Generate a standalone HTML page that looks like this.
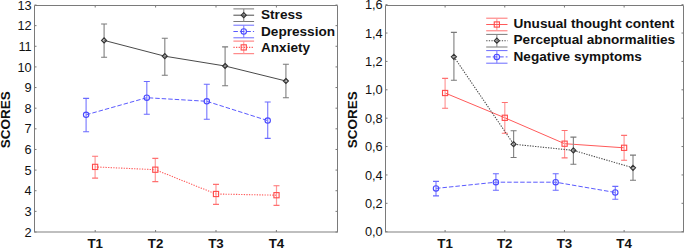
<!DOCTYPE html>
<html><head><meta charset="utf-8"><style>
html,body{margin:0;padding:0;background:#fff;}
svg{display:block;font-family:"Liberation Sans", sans-serif;}
</style></head><body>
<svg width="685" height="249" viewBox="0 0 685 249">
<rect width="685" height="249" fill="#fff"/>
<path d="M34.5 232V5.5H337.5V232" fill="none" stroke="#7a7a7a" stroke-width="1"/>
<path d="M34 232H338" fill="none" stroke="#808080" stroke-width="1.2"/>
<path d="M34.5 232h2M337.5 232h-2" stroke="#7a7a7a" stroke-width="1"/>
<path d="M34.5 211.36h2M337.5 211.36h-2" stroke="#7a7a7a" stroke-width="1"/>
<path d="M34.5 190.73h2M337.5 190.73h-2" stroke="#7a7a7a" stroke-width="1"/>
<path d="M34.5 170.09h2M337.5 170.09h-2" stroke="#7a7a7a" stroke-width="1"/>
<path d="M34.5 149.46h2M337.5 149.46h-2" stroke="#7a7a7a" stroke-width="1"/>
<path d="M34.5 128.82h2M337.5 128.82h-2" stroke="#7a7a7a" stroke-width="1"/>
<path d="M34.5 108.18h2M337.5 108.18h-2" stroke="#7a7a7a" stroke-width="1"/>
<path d="M34.5 87.55h2M337.5 87.55h-2" stroke="#7a7a7a" stroke-width="1"/>
<path d="M34.5 66.91h2M337.5 66.91h-2" stroke="#7a7a7a" stroke-width="1"/>
<path d="M34.5 46.28h2M337.5 46.28h-2" stroke="#7a7a7a" stroke-width="1"/>
<path d="M34.5 25.64h2M337.5 25.64h-2" stroke="#7a7a7a" stroke-width="1"/>
<path d="M34.5 5h2M337.5 5h-2" stroke="#7a7a7a" stroke-width="1"/>
<path d="M95.2 232v-2M95.2 5.5v2" stroke="#7a7a7a" stroke-width="1"/>
<path d="M155.6 232v-2M155.6 5.5v2" stroke="#7a7a7a" stroke-width="1"/>
<path d="M216 232v-2M216 5.5v2" stroke="#7a7a7a" stroke-width="1"/>
<path d="M276.4 232v-2M276.4 5.5v2" stroke="#7a7a7a" stroke-width="1"/>
<text x="31.7" y="236.6" font-size="12.8" text-anchor="end" fill="#111">2</text>
<text x="31.7" y="215.96" font-size="12.8" text-anchor="end" fill="#111">3</text>
<text x="31.7" y="195.33" font-size="12.8" text-anchor="end" fill="#111">4</text>
<text x="31.7" y="174.69" font-size="12.8" text-anchor="end" fill="#111">5</text>
<text x="31.7" y="154.06" font-size="12.8" text-anchor="end" fill="#111">6</text>
<text x="31.7" y="133.42" font-size="12.8" text-anchor="end" fill="#111">7</text>
<text x="31.7" y="112.78" font-size="12.8" text-anchor="end" fill="#111">8</text>
<text x="31.7" y="92.15" font-size="12.8" text-anchor="end" fill="#111">9</text>
<text x="31.7" y="71.51" font-size="12.8" text-anchor="end" fill="#111">10</text>
<text x="31.7" y="50.88" font-size="12.8" text-anchor="end" fill="#111">11</text>
<text x="31.7" y="30.24" font-size="12.8" text-anchor="end" fill="#111">12</text>
<text x="31.7" y="9.6" font-size="12.8" text-anchor="end" fill="#111">13</text>
<text x="95.2" y="247.5" font-size="13.3" font-weight="bold" text-anchor="middle" fill="#111">T1</text>
<text x="155.6" y="247.5" font-size="13.3" font-weight="bold" text-anchor="middle" fill="#111">T2</text>
<text x="216" y="247.5" font-size="13.3" font-weight="bold" text-anchor="middle" fill="#111">T3</text>
<text x="276.4" y="247.5" font-size="13.3" font-weight="bold" text-anchor="middle" fill="#111">T4</text>
<text transform="translate(9.8 119.8) rotate(-90)" x="0" y="0" font-size="13.5" font-weight="bold" text-anchor="middle" fill="#111">SCORES</text>
<path d="M104.1 40.4 L164.8 56.2 L225.1 66 L285.9 81" fill="none" stroke="#4a4a4a" stroke-width="1"/>
<path d="M104.1 24V57.2" stroke="#8a8a8a" stroke-width="1.2" fill="none"/>
<path d="M101.1 24H107.1M101.1 57.2H107.1" stroke="#7a7a7a" stroke-width="1.1" fill="none"/>
<path d="M164.8 38.2V75.3" stroke="#8a8a8a" stroke-width="1.2" fill="none"/>
<path d="M161.8 38.2H167.8M161.8 75.3H167.8" stroke="#7a7a7a" stroke-width="1.1" fill="none"/>
<path d="M225.1 46.9V85.7" stroke="#8a8a8a" stroke-width="1.2" fill="none"/>
<path d="M222.1 46.9H228.1M222.1 85.7H228.1" stroke="#7a7a7a" stroke-width="1.1" fill="none"/>
<path d="M285.9 64.3V97.7" stroke="#8a8a8a" stroke-width="1.2" fill="none"/>
<path d="M282.9 64.3H288.9M282.9 97.7H288.9" stroke="#7a7a7a" stroke-width="1.1" fill="none"/>
<path d="M104.1 37.9L106.6 40.4L104.1 42.9L101.6 40.4Z" fill="none" stroke="#333" stroke-width="1.2"/>
<path d="M164.8 53.7L167.3 56.2L164.8 58.7L162.3 56.2Z" fill="none" stroke="#333" stroke-width="1.2"/>
<path d="M225.1 63.5L227.6 66L225.1 68.5L222.6 66Z" fill="none" stroke="#333" stroke-width="1.2"/>
<path d="M285.9 78.5L288.4 81L285.9 83.5L283.4 81Z" fill="none" stroke="#333" stroke-width="1.2"/>
<path d="M86.1 114.8 L146.8 97.7 L206.8 101.3 L267.7 120.6" fill="none" stroke="#5a5aff" stroke-width="1" stroke-dasharray="4.5 2"/>
<path d="M86.1 98.4V131.7" stroke="#8080ff" stroke-width="1.2" fill="none"/>
<path d="M83.1 98.4H89.1M83.1 131.7H89.1" stroke="#6a6aff" stroke-width="1.1" fill="none"/>
<path d="M146.8 81.5V114.3" stroke="#8080ff" stroke-width="1.2" fill="none"/>
<path d="M143.8 81.5H149.8M143.8 114.3H149.8" stroke="#6a6aff" stroke-width="1.1" fill="none"/>
<path d="M206.8 84.3V119.3" stroke="#8080ff" stroke-width="1.2" fill="none"/>
<path d="M203.8 84.3H209.8M203.8 119.3H209.8" stroke="#6a6aff" stroke-width="1.1" fill="none"/>
<path d="M267.7 102V138.4" stroke="#8080ff" stroke-width="1.2" fill="none"/>
<path d="M264.7 102H270.7M264.7 138.4H270.7" stroke="#6a6aff" stroke-width="1.1" fill="none"/>
<circle cx="86.1" cy="114.8" r="2.7" fill="none" stroke="#4a4aff" stroke-width="1.1"/>
<circle cx="146.8" cy="97.7" r="2.7" fill="none" stroke="#4a4aff" stroke-width="1.1"/>
<circle cx="206.8" cy="101.3" r="2.7" fill="none" stroke="#4a4aff" stroke-width="1.1"/>
<circle cx="267.7" cy="120.6" r="2.7" fill="none" stroke="#4a4aff" stroke-width="1.1"/>
<path d="M95.1 166.9 L155.3 169.7 L216 194 L276.5 195.2" fill="none" stroke="#ff5a5a" stroke-width="1.1" stroke-dasharray="1.3 1.3"/>
<path d="M95.1 156.2V178.1" stroke="#ff9a9a" stroke-width="1.2" fill="none"/>
<path d="M92.1 156.2H98.1M92.1 178.1H98.1" stroke="#ff7070" stroke-width="1.1" fill="none"/>
<path d="M155.3 158.4V181.6" stroke="#ff9a9a" stroke-width="1.2" fill="none"/>
<path d="M152.3 158.4H158.3M152.3 181.6H158.3" stroke="#ff7070" stroke-width="1.1" fill="none"/>
<path d="M216 184.4V204.4" stroke="#ff9a9a" stroke-width="1.2" fill="none"/>
<path d="M213 184.4H219M213 204.4H219" stroke="#ff7070" stroke-width="1.1" fill="none"/>
<path d="M276.5 185.7V205.4" stroke="#ff9a9a" stroke-width="1.2" fill="none"/>
<path d="M273.5 185.7H279.5M273.5 205.4H279.5" stroke="#ff7070" stroke-width="1.1" fill="none"/>
<rect x="92.5" y="164.3" width="5.2" height="5.2" fill="none" stroke="#ff4a4a" stroke-width="1.1"/>
<rect x="152.7" y="167.1" width="5.2" height="5.2" fill="none" stroke="#ff4a4a" stroke-width="1.1"/>
<rect x="213.4" y="191.4" width="5.2" height="5.2" fill="none" stroke="#ff4a4a" stroke-width="1.1"/>
<rect x="273.9" y="192.6" width="5.2" height="5.2" fill="none" stroke="#ff4a4a" stroke-width="1.1"/>
<path d="M233.4 8.9H254.1M233.4 21.5H254.1" stroke="#7a7a7a" stroke-width="1" fill="none"/>
<path d="M243.75 8.9V21.5" stroke="#8a8a8a" stroke-width="1.1" fill="none"/>
<path d="M233.4 15.2H254.1" stroke="#4a4a4a" stroke-width="1"/>
<path d="M243.75 12.7L246.25 15.2L243.75 17.7L241.25 15.2Z" fill="none" stroke="#333" stroke-width="1.2"/>
<text x="261" y="19.3" font-size="13.6" font-weight="bold" fill="#111">Stress</text>
<path d="M233.4 25.2H254.1M233.4 37.8H254.1" stroke="#6a6aff" stroke-width="1" fill="none"/>
<path d="M243.75 25.2V37.8" stroke="#8080ff" stroke-width="1.1" fill="none"/>
<path d="M233.4 31.5H254.1" stroke="#5a5aff" stroke-width="1" stroke-dasharray="4.5 2"/>
<circle cx="243.75" cy="31.5" r="2.7" fill="none" stroke="#4a4aff" stroke-width="1.1"/>
<text x="261" y="35.6" font-size="13.6" font-weight="bold" fill="#111">Depression</text>
<path d="M233.4 41.1H254.1M233.4 53.7H254.1" stroke="#ff7070" stroke-width="1" fill="none"/>
<path d="M243.75 41.1V53.7" stroke="#ff9a9a" stroke-width="1.1" fill="none"/>
<path d="M233.4 47.4H254.1" stroke="#ff5a5a" stroke-width="1.1" stroke-dasharray="1.3 1.3"/>
<rect x="241.15" y="44.8" width="5.2" height="5.2" fill="none" stroke="#ff4a4a" stroke-width="1.1"/>
<text x="261" y="51.5" font-size="13.6" font-weight="bold" fill="#111">Anxiety</text>
<path d="M385.5 232V5.5H683.5V232" fill="none" stroke="#7a7a7a" stroke-width="1"/>
<path d="M385 232H684" fill="none" stroke="#808080" stroke-width="1.2"/>
<path d="M385.5 231.7h2M683.5 231.7h-2" stroke="#7a7a7a" stroke-width="1"/>
<path d="M385.5 203.32h2M683.5 203.32h-2" stroke="#7a7a7a" stroke-width="1"/>
<path d="M385.5 174.94h2M683.5 174.94h-2" stroke="#7a7a7a" stroke-width="1"/>
<path d="M385.5 146.56h2M683.5 146.56h-2" stroke="#7a7a7a" stroke-width="1"/>
<path d="M385.5 118.18h2M683.5 118.18h-2" stroke="#7a7a7a" stroke-width="1"/>
<path d="M385.5 89.8h2M683.5 89.8h-2" stroke="#7a7a7a" stroke-width="1"/>
<path d="M385.5 61.42h2M683.5 61.42h-2" stroke="#7a7a7a" stroke-width="1"/>
<path d="M385.5 33.04h2M683.5 33.04h-2" stroke="#7a7a7a" stroke-width="1"/>
<path d="M385.5 4.66h2M683.5 4.66h-2" stroke="#7a7a7a" stroke-width="1"/>
<path d="M445.1 232v-2M445.1 5.5v2" stroke="#7a7a7a" stroke-width="1"/>
<path d="M504.77 232v-2M504.77 5.5v2" stroke="#7a7a7a" stroke-width="1"/>
<path d="M564.44 232v-2M564.44 5.5v2" stroke="#7a7a7a" stroke-width="1"/>
<path d="M624.11 232v-2M624.11 5.5v2" stroke="#7a7a7a" stroke-width="1"/>
<text x="382.7" y="236.3" font-size="12.8" text-anchor="end" fill="#111">0,0</text>
<text x="382.7" y="207.92" font-size="12.8" text-anchor="end" fill="#111">0,2</text>
<text x="382.7" y="179.54" font-size="12.8" text-anchor="end" fill="#111">0,4</text>
<text x="382.7" y="151.16" font-size="12.8" text-anchor="end" fill="#111">0,6</text>
<text x="382.7" y="122.78" font-size="12.8" text-anchor="end" fill="#111">0,8</text>
<text x="382.7" y="94.4" font-size="12.8" text-anchor="end" fill="#111">1,0</text>
<text x="382.7" y="66.02" font-size="12.8" text-anchor="end" fill="#111">1,2</text>
<text x="382.7" y="37.64" font-size="12.8" text-anchor="end" fill="#111">1,4</text>
<text x="382.7" y="9.26" font-size="12.8" text-anchor="end" fill="#111">1,6</text>
<text x="445.1" y="247.5" font-size="13.3" font-weight="bold" text-anchor="middle" fill="#111">T1</text>
<text x="504.77" y="247.5" font-size="13.3" font-weight="bold" text-anchor="middle" fill="#111">T2</text>
<text x="564.44" y="247.5" font-size="13.3" font-weight="bold" text-anchor="middle" fill="#111">T3</text>
<text x="624.11" y="247.5" font-size="13.3" font-weight="bold" text-anchor="middle" fill="#111">T4</text>
<text transform="translate(357.2 119.8) rotate(-90)" x="0" y="0" font-size="13.5" font-weight="bold" text-anchor="middle" fill="#111">SCORES</text>
<path d="M445.1 93 L504.8 117.8 L564.6 143.7 L624.1 147.8" fill="none" stroke="#ff5a5a" stroke-width="1"/>
<path d="M445.1 78.4V108.3" stroke="#ff9a9a" stroke-width="1.2" fill="none"/>
<path d="M442.1 78.4H448.1M442.1 108.3H448.1" stroke="#ff7070" stroke-width="1.1" fill="none"/>
<path d="M504.8 102.5V133.3" stroke="#ff9a9a" stroke-width="1.2" fill="none"/>
<path d="M501.8 102.5H507.8M501.8 133.3H507.8" stroke="#ff7070" stroke-width="1.1" fill="none"/>
<path d="M564.6 130.5V157.9" stroke="#ff9a9a" stroke-width="1.2" fill="none"/>
<path d="M561.6 130.5H567.6M561.6 157.9H567.6" stroke="#ff7070" stroke-width="1.1" fill="none"/>
<path d="M624.1 135.4V160.2" stroke="#ff9a9a" stroke-width="1.2" fill="none"/>
<path d="M621.1 135.4H627.1M621.1 160.2H627.1" stroke="#ff7070" stroke-width="1.1" fill="none"/>
<rect x="442.5" y="90.4" width="5.2" height="5.2" fill="none" stroke="#ff4a4a" stroke-width="1.1"/>
<rect x="502.2" y="115.2" width="5.2" height="5.2" fill="none" stroke="#ff4a4a" stroke-width="1.1"/>
<rect x="562" y="141.1" width="5.2" height="5.2" fill="none" stroke="#ff4a4a" stroke-width="1.1"/>
<rect x="621.5" y="145.2" width="5.2" height="5.2" fill="none" stroke="#ff4a4a" stroke-width="1.1"/>
<path d="M453.9 56.8 L513.6 144.2 L573.4 150.4 L633 167.8" fill="none" stroke="#4a4a4a" stroke-width="1.1" stroke-dasharray="1.3 1.3"/>
<path d="M453.9 32.4V80.2" stroke="#8a8a8a" stroke-width="1.2" fill="none"/>
<path d="M450.9 32.4H456.9M450.9 80.2H456.9" stroke="#7a7a7a" stroke-width="1.1" fill="none"/>
<path d="M513.6 130.7V157.5" stroke="#8a8a8a" stroke-width="1.2" fill="none"/>
<path d="M510.6 130.7H516.6M510.6 157.5H516.6" stroke="#7a7a7a" stroke-width="1.1" fill="none"/>
<path d="M573.4 137.1V164.3" stroke="#8a8a8a" stroke-width="1.2" fill="none"/>
<path d="M570.4 137.1H576.4M570.4 164.3H576.4" stroke="#7a7a7a" stroke-width="1.1" fill="none"/>
<path d="M633 155.1V180.3" stroke="#8a8a8a" stroke-width="1.2" fill="none"/>
<path d="M630 155.1H636M630 180.3H636" stroke="#7a7a7a" stroke-width="1.1" fill="none"/>
<path d="M453.9 54.3L456.4 56.8L453.9 59.3L451.4 56.8Z" fill="none" stroke="#333" stroke-width="1.2"/>
<path d="M513.6 141.7L516.1 144.2L513.6 146.7L511.1 144.2Z" fill="none" stroke="#333" stroke-width="1.2"/>
<path d="M573.4 147.9L575.9 150.4L573.4 152.9L570.9 150.4Z" fill="none" stroke="#333" stroke-width="1.2"/>
<path d="M633 165.3L635.5 167.8L633 170.3L630.5 167.8Z" fill="none" stroke="#333" stroke-width="1.2"/>
<path d="M436 188.4 L495.9 182.2 L555.7 182.2 L615.3 192.5" fill="none" stroke="#5a5aff" stroke-width="1" stroke-dasharray="4.5 2"/>
<path d="M436 181.4V195.9" stroke="#8080ff" stroke-width="1.2" fill="none"/>
<path d="M433 181.4H439M433 195.9H439" stroke="#6a6aff" stroke-width="1.1" fill="none"/>
<path d="M495.9 173.7V190.3" stroke="#8080ff" stroke-width="1.2" fill="none"/>
<path d="M492.9 173.7H498.9M492.9 190.3H498.9" stroke="#6a6aff" stroke-width="1.1" fill="none"/>
<path d="M555.7 173.7V190.3" stroke="#8080ff" stroke-width="1.2" fill="none"/>
<path d="M552.7 173.7H558.7M552.7 190.3H558.7" stroke="#6a6aff" stroke-width="1.1" fill="none"/>
<path d="M615.3 186.4V199.3" stroke="#8080ff" stroke-width="1.2" fill="none"/>
<path d="M612.3 186.4H618.3M612.3 199.3H618.3" stroke="#6a6aff" stroke-width="1.1" fill="none"/>
<circle cx="436" cy="188.4" r="2.7" fill="none" stroke="#4a4aff" stroke-width="1.1"/>
<circle cx="495.9" cy="182.2" r="2.7" fill="none" stroke="#4a4aff" stroke-width="1.1"/>
<circle cx="555.7" cy="182.2" r="2.7" fill="none" stroke="#4a4aff" stroke-width="1.1"/>
<circle cx="615.3" cy="192.5" r="2.7" fill="none" stroke="#4a4aff" stroke-width="1.1"/>
<path d="M486.2 18.2H507.5M486.2 30.8H507.5" stroke="#ff7070" stroke-width="1" fill="none"/>
<path d="M496.85 18.2V30.8" stroke="#ff9a9a" stroke-width="1.1" fill="none"/>
<path d="M486.2 24.5H507.5" stroke="#ff5a5a" stroke-width="1"/>
<rect x="494.25" y="21.9" width="5.2" height="5.2" fill="none" stroke="#ff4a4a" stroke-width="1.1"/>
<text x="513.5" y="28.2" font-size="13.6" font-weight="bold" fill="#111">Unusual thought content</text>
<path d="M486.2 34.4H507.5M486.2 47H507.5" stroke="#7a7a7a" stroke-width="1" fill="none"/>
<path d="M496.85 34.4V47" stroke="#8a8a8a" stroke-width="1.1" fill="none"/>
<path d="M486.2 40.7H507.5" stroke="#4a4a4a" stroke-width="1.1" stroke-dasharray="1.3 1.3"/>
<path d="M496.85 38.2L499.35 40.7L496.85 43.2L494.35 40.7Z" fill="none" stroke="#333" stroke-width="1.2"/>
<text x="513.5" y="44.4" font-size="13.6" font-weight="bold" fill="#111">Perceptual abnormalities</text>
<path d="M486.2 50.6H507.5M486.2 63.2H507.5" stroke="#6a6aff" stroke-width="1" fill="none"/>
<path d="M496.85 50.6V63.2" stroke="#8080ff" stroke-width="1.1" fill="none"/>
<path d="M486.2 56.9H507.5" stroke="#5a5aff" stroke-width="1" stroke-dasharray="4.5 2"/>
<circle cx="496.85" cy="56.9" r="2.7" fill="none" stroke="#4a4aff" stroke-width="1.1"/>
<text x="513.5" y="60.6" font-size="13.6" font-weight="bold" fill="#111">Negative symptoms</text>
</svg>
</body></html>
